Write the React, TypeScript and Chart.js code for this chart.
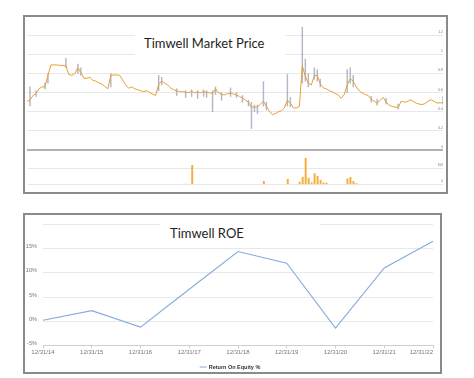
import React, { useEffect, useRef } from "react";
import { Chart, registerables } from "chart.js";
Chart.register(...registerables);

// ---------- Market price panel data ----------
const priceTickLabels = ["Jan '14", "Jul '14", "Jul '15", "Jul '16", "Jul '17", "Jan '19", "Jan '20", "Jan '21", "Jul '21", "Jan '22", "Jul '22", "Jul '23"];
const priceTickIndex = [4, 13, 25, 37, 48, 62, 73, 85, 95, 106, 116, 134];

const closePrices = [
  0.51, 0.52, 0.57, 0.59, 0.64, 0.66, 0.66, 0.78, 0.89, 0.89,
  0.89, 0.885, 0.885, 0.88, 0.79, 0.78, 0.80, 0.86, 0.81, 0.75,
  0.75, 0.76, 0.73, 0.72, 0.70, 0.69, 0.665, 0.64, 0.78, 0.785,
  0.785, 0.78, 0.73, 0.68, 0.645, 0.66, 0.64, 0.63, 0.62, 0.61,
  0.62, 0.60, 0.585, 0.57, 0.69, 0.72, 0.70, 0.68, 0.65, 0.63,
  0.62, 0.61, 0.61, 0.605, 0.60, 0.61, 0.60, 0.605, 0.60, 0.61,
  0.60, 0.60, 0.59, 0.64, 0.60, 0.58, 0.575, 0.59, 0.594, 0.585,
  0.575, 0.56, 0.545, 0.52, 0.50, 0.445, 0.45, 0.45, 0.48, 0.51,
  0.455, 0.405, 0.37, 0.38, 0.40, 0.41, 0.44, 0.52, 0.49, 0.44,
  0.44, 0.455, 0.88, 0.77, 0.70, 0.68, 0.78, 0.78, 0.69, 0.65,
  0.64, 0.62, 0.61, 0.59, 0.575, 0.54, 0.58, 0.68, 0.745, 0.72,
  0.66, 0.62, 0.595, 0.58, 0.57, 0.53, 0.51, 0.49, 0.52, 0.55,
  0.50, 0.47, 0.455, 0.45, 0.44, 0.51, 0.50, 0.505, 0.525, 0.51,
  0.49, 0.48, 0.475, 0.485, 0.51, 0.525, 0.51, 0.49, 0.495, 0.49,
];

const rangeIndex = [1, 3, 6, 7, 13, 17, 18, 28, 44, 45, 50, 53, 55, 57, 59, 60, 62, 63, 65, 68, 70, 72, 74, 75, 76, 77, 79, 80, 87, 88, 92, 93, 94, 96, 97, 98, 107, 108, 109, 115, 117, 120, 124, 139];
const rangeLow = [0.46, 0.56, 0.64, 0.70, 0.86, 0.80, 0.78, 0.66, 0.62, 0.68, 0.57, 0.55, 0.56, 0.54, 0.56, 0.55, 0.40, 0.58, 0.52, 0.56, 0.55, 0.50, 0.46, 0.225, 0.40, 0.38, 0.46, 0.42, 0.46, 0.45, 0.70, 0.72, 0.66, 0.74, 0.72, 0.66, 0.60, 0.70, 0.66, 0.50, 0.47, 0.48, 0.43, 0.48];
const rangeHigh = [0.66, 0.62, 0.70, 0.80, 0.96, 0.90, 0.86, 0.80, 0.78, 0.76, 0.64, 0.62, 0.63, 0.62, 0.63, 0.62, 0.62, 0.66, 0.60, 0.65, 0.60, 0.57, 0.52, 0.50, 0.47, 0.47, 0.715, 0.50, 0.79, 0.55, 1.285, 0.95, 0.80, 0.86, 0.84, 0.74, 0.84, 0.86, 0.78, 0.56, 0.53, 0.54, 0.48, 0.56];

const volumeIndex = [53, 55, 79, 87, 91, 92, 93, 94, 95, 96, 97, 98, 99, 100, 107, 108, 109, 110];
const volumeValues = [3, 117, 19, 32, 15, 45, 160, 40, 10, 67, 50, 25, 10, 8, 35, 44, 20, 5];

const priceTicks = [0, 0.2, 0.4, 0.6, 0.8, 1, 1.2];
const volumeTicks = [0, 100];

// ---------- ROE panel data ----------
const roeCategories = ["12/31/14", "12/31/15", "12/31/16", "12/31/17", "12/31/18", "12/31/19", "12/31/20", "12/31/21", "12/31/22"];
const roeValues = [0.2, 2.2, -1.2, 6.6, 14.4, 12.0, -1.4, 11.0, 16.5];
const roeTicks = [-5, 0, 5, 10, 15, 20];

const N = closePrices.length;
const priceLabels: string[] = Array.from({ length: N }, () => "");
priceTickIndex.forEach((idx, k) => { priceLabels[idx] = priceTickLabels[k]; });
const rangeData: any[] = Array.from({ length: N }, () => null);
rangeIndex.forEach((idx, k) => { rangeData[idx] = [rangeLow[k], rangeHigh[k]]; });
const volumeData: (number | null)[] = Array.from({ length: N }, () => null);
volumeIndex.forEach((idx, k) => { volumeData[idx] = volumeValues[k]; });

const SMALL = '"Liberation Sans", Arial, sans-serif';

const roeLabelsPlugin = {
  id: "roeLabels",
  afterDraw(chart: any) {
    const { ctx, chartArea } = chart;
    const xs = chart.scales.x;
    ctx.save();
    ctx.font = `6px ${SMALL}`;
    ctx.fillStyle = "#777777";
    ctx.textBaseline = "middle";
    ctx.textAlign = "center";
    (chart.data.labels as string[]).forEach((lab, i) => {
      const w = ctx.measureText(lab).width;
      let x = xs.getPixelForTick(i);
      x = Math.min(x, chartArea.right - w / 2);
      ctx.fillText(lab, x, chartArea.bottom + 7);
    });
    const ds = chart.data.datasets[0];
    ctx.font = `bold 5.5px ${SMALL}`;
    const tw = ctx.measureText(ds.label).width;
    const lineW = 7;
    const gap = 2;
    const total = lineW + gap + tw;
    const cx = chart.width / 2 - 2;
    const x0 = cx - total / 2;
    const y = chartArea.bottom + 21.5;
    ctx.strokeStyle = ds.borderColor;
    ctx.lineWidth = 1;
    ctx.beginPath();
    ctx.moveTo(x0, y);
    ctx.lineTo(x0 + lineW, y);
    ctx.stroke();
    ctx.fillStyle = "#333333";
    ctx.textAlign = "left";
    ctx.fillText(ds.label, x0 + lineW + gap, y);
    ctx.restore();
  },
};

export default function App() {
  const priceRef = useRef<HTMLCanvasElement>(null);
  const volRef = useRef<HTMLCanvasElement>(null);
  const roeRef = useRef<HTMLCanvasElement>(null);

  useEffect(() => {
    const charts: Chart[] = [];
    charts.push(new Chart(priceRef.current!, {
      type: "line",
      data: {
        labels: priceLabels,
        datasets: [
          { type: "line", data: closePrices, borderColor: "#e99e34", borderWidth: 1, pointRadius: 0, tension: 0, order: 1 } as any,
          { type: "bar", data: rangeData, backgroundColor: "rgba(150,162,182,0.75)", barThickness: 0.8, order: 2 } as any,
        ],
      },
      options: {
        animation: false,
        responsive: false,
        maintainAspectRatio: false,
        layout: { padding: { left: 2, right: 3, top: 3, bottom: 2 } },
        plugins: { legend: { display: false }, tooltip: { enabled: false } },
        scales: {
          x: { type: "category", display: false, offset: false },
          y: {
            position: "right",
            min: 0,
            max: 1.36,
            afterBuildTicks: (axis: any) => { axis.ticks = priceTicks.map((v) => ({ value: v })); },
            grid: {
              drawTicks: false,
              color: (c: any) => (c.tick && c.tick.value === 0 ? "#b0b0b0" : "#e8e8e8"),
              lineWidth: (c: any) => (c.tick && c.tick.value === 0 ? 2 : 1),
            },
            border: { display: false },
            ticks: {
              mirror: true,
              padding: 0,
              labelOffset: -3,
              color: "#777777",
              font: { size: 3.4, family: SMALL },
              callback: (v: any) => String(+Number(v).toFixed(1)),
            },
          },
        },
      } as any,
    }));

    charts.push(new Chart(volRef.current!, {
      type: "bar",
      data: {
        labels: priceLabels,
        datasets: [{ data: volumeData, backgroundColor: "#f5ad3b", barThickness: 1.3 }],
      },
      options: {
        animation: false,
        responsive: false,
        maintainAspectRatio: false,
        layout: { padding: { left: 2, right: 3, top: 0, bottom: 0 } },
        plugins: { legend: { display: false }, tooltip: { enabled: false } },
        scales: {
          x: {
            offset: false,
            grid: { display: false },
            border: { display: false },
            afterFit: (s: any) => { s.height = 9.5; },
            ticks: {
              autoSkip: false,
              maxRotation: 0,
              padding: 3,
              color: "#777777",
              font: { size: 3.2, family: SMALL },
              callback: (_v: any, i: number) => priceLabels[i],
            },
          },
          y: {
            position: "right",
            min: 0,
            max: 200,
            afterBuildTicks: (axis: any) => { axis.ticks = volumeTicks.map((v) => ({ value: v })); },
            grid: { drawTicks: false, color: "#e8e8e8" },
            border: { display: false },
            ticks: {
              mirror: true,
              padding: 0,
              labelOffset: -3,
              color: "#777777",
              font: { size: 3.2, family: SMALL },
            },
          },
        },
      } as any,
    }));

    charts.push(new Chart(roeRef.current!, {
      type: "line",
      data: {
        labels: roeCategories,
        datasets: [{ label: "Return On Equity %", data: roeValues, borderColor: "#86abd9", borderWidth: 1.1, pointRadius: 0, tension: 0 }],
      },
      options: {
        animation: false,
        responsive: false,
        maintainAspectRatio: false,
        layout: { padding: { left: 0, right: 6, top: 6, bottom: 21.5 } },
        plugins: { legend: { display: false }, tooltip: { enabled: false } },
        scales: {
          x: {
            offset: false,
            grid: { display: true, drawOnChartArea: false, drawTicks: true, tickLength: 3, color: "#c8d0dc" },
            border: { display: true, color: "#c8d0dc" },
            ticks: { display: false },
            afterFit: (s: any) => { s.height = 4; },
          },
          y: {
            min: -5,
            max: 20,
            afterBuildTicks: (axis: any) => { axis.ticks = roeTicks.map((v) => ({ value: v })); },
            afterFit: (s: any) => { s.width = 18; },
            grid: { drawTicks: false, color: "#e8e8e8" },
            border: { display: false },
            ticks: {
              padding: 6,
              labelOffset: -2,
              color: "#777777",
              font: { size: 5.6, family: SMALL },
              callback: (v: any) => (v === 20 ? "" : `${v}%`),
            },
          },
        },
      } as any,
      plugins: [roeLabelsPlugin as any],
    }));

    return () => charts.forEach((c) => c.destroy());
  }, []);

  const abs = (l: number, t: number, w: number, h: number): React.CSSProperties => ({ position: "absolute", left: l, top: t, width: w, height: h });
  const titleFont: React.CSSProperties = { fontFamily: "Lato, 'Open Sans', sans-serif", fontSize: 13, lineHeight: "16px", color: "#1e1e1e", whiteSpace: "nowrap", position: "absolute" };

  return (
    <div style={{ position: "fixed", left: 0, top: 0, width: 474, height: 378, background: "#ffffff", overflow: "hidden" }}>
      <div style={{ ...abs(23, 15, 425, 179), boxSizing: "border-box", border: "2px solid #8a8a8a" }} />
      <canvas ref={priceRef} width={421} height={135} style={{ position: "absolute", left: 25, top: 17 }} />
      <canvas ref={volRef} width={421} height={44} style={{ position: "absolute", left: 25, top: 150 }} />
      <div style={{ ...abs(135, 18, 150, 42), background: "#ffffff" }} />
      <div style={{ ...titleFont, left: 144, top: 35 }}>Timwell Market Price</div>

      <div style={{ ...abs(23, 213, 419, 161), boxSizing: "border-box", border: "2px solid #8a8a8a" }} />
      <canvas ref={roeRef} width={414} height={156} style={{ position: "absolute", left: 25, top: 215 }} />
      <div style={{ ...abs(160, 216, 160, 25), background: "#ffffff" }} />
      <div style={{ ...titleFont, left: 170, top: 225 }}>Timwell ROE</div>
    </div>
  );
}
